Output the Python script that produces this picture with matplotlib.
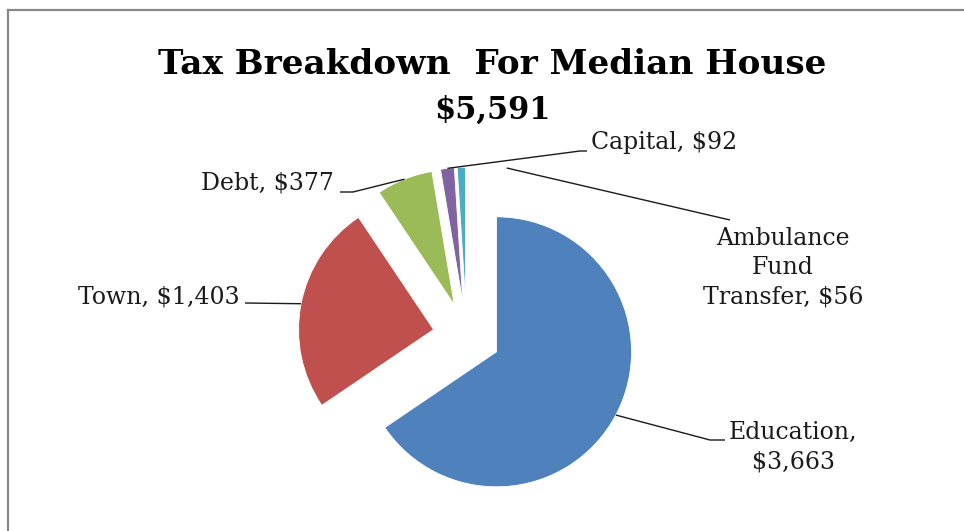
import numpy as np
import matplotlib.pyplot as plt
from matplotlib.lines import Line2D

plt.rcParams['font.family'] = ['DejaVu Serif']

# datos del grafico
categorias = ['Education', 'Town', 'Debt', 'Capital', 'Ambulance\nFund\nTransfer']
valores = [3663, 1403, 377, 92, 56]
separadores = [',\n', ', ', ', ', ', ', ', ']
colores = ['#4F81BD', '#C0504D', '#9BBB59', '#8064A2', '#4BACC6']
total = 5591

fig = plt.figure(figsize=(9.64, 5.31), dpi=100)
ax = fig.add_axes([0, 0, 1, 1])

# centro y radio del pie en pixeles de la figura
R_PX = 135.0
CX, CY = 466.7, 336.0

def px(x, y):
    # pixel (origen arriba a la izquierda) -> coordenadas de datos
    return ((x - CX) / R_PX, (CY - y) / R_PX)

wedges, _ = ax.pie(valores, colors=colores, explode=[0.25] * len(valores),
                   startangle=90, counterclock=False, radius=1,
                   wedgeprops=dict(linewidth=0.6, edgecolor='white'))

ax.set_aspect('auto')
ax.set_xlim(px(0, 0)[0], px(964, 0)[0])
ax.set_ylim(px(0, 531)[1], px(0, 0)[1])
ax.axis('off')

# lineas guia: (angulo de salida o None = medio de la porcion, radio, puntos intermedios, texto, alineacion)
guias = [
    (None, 1.0, [(710, 440), (725, 440)], (793, 447), 'center'),
    (None, 1.0, [(245, 303)], (240, 297), 'right'),
    (None, 1.0, [(353, 192), (340, 192)], (334, 183), 'right'),
    (None, 1.0, [(580, 151), (587, 151)], (591, 143), 'left'),
    (73.0, 1.04, [(730, 220)], (783, 268), 'center'),
]

for w, nombre, v, sep, (ang, rr, pts, txy, ha) in zip(wedges, categorias, valores, separadores, guias):
    if ang is None:
        ang = (w.theta1 + w.theta2) / 2
    cx, cy = w.center
    x0 = cx + rr * w.r * np.cos(np.radians(ang))
    y0 = cy + rr * w.r * np.sin(np.radians(ang))
    xs = [x0] + [px(*p)[0] for p in pts]
    ys = [y0] + [px(*p)[1] for p in pts]
    ax.plot(xs, ys, color='#1a1a1a', lw=1.0, solid_capstyle='butt')
    texto = nombre + sep + '\\$' + f'{v:,}'
    tx, ty = px(*txy)
    ax.text(tx, ty, texto, ha=ha, va='center', multialignment='center',
            fontsize=17, color='#1a1a1a', linespacing=1.35)

# titulo
fig.text(492 / 964, 1 - 65 / 531, 'Tax Breakdown  For Median House',
         ha='center', va='center', fontsize=24.7, fontweight='bold')
fig.text(492 / 964, 1 - 110 / 531, '\\$' + f'{total:,}',
         ha='center', va='center', fontsize=22, fontweight='bold')

# marco del area del grafico
fig.add_artist(Line2D([7.5 / 964, 7.5 / 964], [0, 1 - 9.5 / 531],
                      transform=fig.transFigure, color='#878787', lw=1.6))
fig.add_artist(Line2D([7.5 / 964, 1], [1 - 9.5 / 531, 1 - 9.5 / 531],
                      transform=fig.transFigure, color='#878787', lw=1.6))

fig.savefig('out.png', dpi=100)
